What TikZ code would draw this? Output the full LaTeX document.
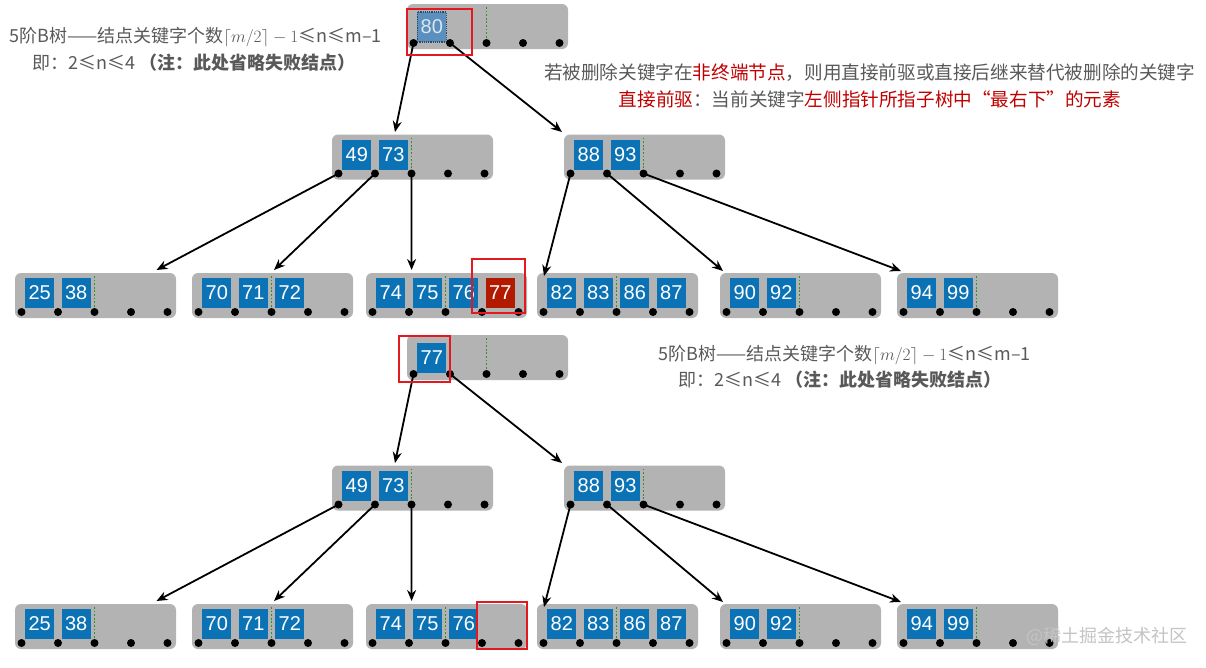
\documentclass[tikz,border=0pt]{standalone}
\usepackage{fontspec}
\setmainfont{Liberation Sans}
\newfontfamily\cjk{Noto Sans CJK SC}
\usetikzlibrary{calc,arrows.meta}
\definecolor{boxgray}{HTML}{B3B3B3}
\definecolor{keyblue}{HTML}{0B72B5}
\definecolor{keyred}{HTML}{B21A00}
\definecolor{txtgray}{HTML}{595959}
\definecolor{txtred}{HTML}{C00000}
\definecolor{rectred}{HTML}{E3191F}
\definecolor{dotgreen}{HTML}{2A952A}
\definecolor{dimkey}{HTML}{5A8FBE}
\definecolor{dimborder}{HTML}{2E4A66}
\definecolor{dimtext}{HTML}{DCE6EE}
\definecolor{wmgray}{HTML}{C4C4C4}
\tikzset{
  bbox/.style={fill=boxgray, rounded corners=6pt, minimum width=161pt, minimum height=45pt, anchor=north west, inner sep=0pt, outer sep=0pt},
  key/.style={fill=keyblue, text=white, minimum width=29pt, minimum height=30pt, inner sep=0pt, font=\fontsize{20}{20}\selectfont},
  ptr/.style={fill=black, circle, inner sep=0pt, minimum size=8pt},
  sepline/.style={draw=dotgreen, dash pattern=on 1.8pt off 1.8pt, line width=1.8pt},
  arr/.style={-{Stealth[length=11pt,width=9pt]}, line width=1.8pt},
  hl/.style={draw=rectred, line width=1.8pt},
  lbl/.style={font=\cjk\fontsize{18}{18}\selectfont, text=txtgray, inner sep=0pt},
  lblbig/.style={lbl, font=\cjk\fontsize{18.6}{18.6}\selectfont},
}
\newcommand\btn[3]{%
  \node[bbox] (#1) at (#2,#3) {};
  \foreach \i in {0,...,4} {\coordinate (#1-d\i) at ($(#1.north west)+(6.5+36.5*\i,39)$);}
}
\newcommand\bkeys[2]{%
  \foreach \t [count=\i, evaluate=\i as \j using int(\i-1)] in {#2} {\node[key] (#1-k\i) at ($(#1-d\j)!0.5!(#1-d\i)+(0,-19)$) {\t};}
}
\newcommand\bfin[1]{%
  \draw[sepline] ($(#1-d2)+(0,-36)$) -- (#1-d2);
  \foreach \i in {0,...,4} {\node[ptr] (#1-p\i) at (#1-d\i) {};}
}
\newcommand\treebody[1]{%
  \btn{#1A}{332}{134.5}\bkeys{#1A}{49,73}\bfin{#1A}
  \btn{#1B}{564}{134.5}\bkeys{#1B}{88,93}\bfin{#1B}
  \btn{#1C1}{15}{273}\bkeys{#1C1}{25,38}\bfin{#1C1}
  \btn{#1C2}{192}{273}\bkeys{#1C2}{70,71,72}\bfin{#1C2}
  \btn{#1C3}{366}{273}\bkeys{#1C3}{74,75,76}
  \btn{#1C4}{537}{273}\bkeys{#1C4}{82,83,86,87}\bfin{#1C4}
  \btn{#1C5}{720}{273}\bkeys{#1C5}{90,92}\bfin{#1C5}
  \btn{#1C6}{897}{273}\bkeys{#1C6}{94,99}\bfin{#1C6}
  \coordinate (#1A-in) at (395,132);
  \coordinate (#1B-in) at (562,132);
  \coordinate (#1C1-in) at (156.5,270);
  \coordinate (#1C2-in) at (274,270);
  \coordinate (#1C3-in) at (411.6,270);
  \coordinate (#1C4-in) at (544,276);
  \coordinate (#1C5-in) at (723,271);
  \coordinate (#1C6-in) at (901,271);
}
\newcommand\treearrows[2]{%
  \draw[arr] (#1R-d0) -- (#2A-in);
  \draw[arr] (#1R-d1) -- (#2B-in);
  \draw[arr] (#2A-d0) -- (#2C1-in);
  \draw[arr] (#2A-d1) -- (#2C2-in);
  \draw[arr] (#2A-d2) -- (#2C3-in);
  \draw[arr] (#2B-d0) -- (#2C4-in);
  \draw[arr] (#2B-d1) -- (#2C5-in);
  \draw[arr] (#2B-d2) -- (#2C6-in);
}
\begin{document}
\begin{tikzpicture}[x=1pt, y=-1pt]
\fill[white] (0,0) rectangle (1206,667);
\useasboundingbox (0,0) rectangle (1206,667);

% ---------- upper tree ----------
\btn{TR}{407}{4}
\node[key, fill=dimkey, text=dimtext, draw=dimborder, densely dotted, line width=1.2pt] (TR-k1) at ($(TR-d0)!0.5!(TR-d1)+(0,-16)$) {80};
\bfin{TR}
\treebody{T}
\node[key, fill=keyred] (TC3-k4) at ($(TC3-d3)!0.5!(TC3-d4)+(0,-19)$) {77};
\bfin{TC3}
\treearrows{T}{T}
\node[hl, minimum width=65pt, minimum height=46pt, anchor=north west] (TRsel) at (406,8) {};
\node[hl, minimum width=53pt, minimum height=54pt, anchor=north west] (TC3sel) at (471,258) {};

% ---------- lower tree ----------
\begin{scope}[yshift=-331pt]
\btn{BR}{407}{4}
\node[key] (BR-k1) at ($(BR-d0)!0.5!(BR-d1)+(0,-16)$) {77};
\bfin{BR}
\treebody{L}
\bfin{LC3}
\treearrows{B}{L}
\node[hl, minimum width=51pt, minimum height=46pt, anchor=north west] (BRsel) at (398,4) {};
\node[hl, minimum width=50pt, minimum height=47pt, anchor=north west] (LC3sel) at (476,270) {};
\end{scope}

% ---------- texts ----------
\node[lbl] (t1) at (195.5,37) {5阶B树——结点关键字个数$\lceil m/2\rceil - 1$≤n≤m–1};
\node[lbl] (t2) at (194,63) {即：2≤n≤4 \textbf{（注：此处省略失败结点）}};
\node[lblbig] (t3) at (869.5,73) {若被删除关键字在\textcolor{txtred}{非终端节点}，则用直接前驱或直接后继来替代被删除的关键字};
\node[lblbig] (t4) at (870,99) {\textcolor{txtred}{直接前驱}：当前关键字\textcolor{txtred}{左侧指针所指子树中“最右下”的元素}};
\node[lbl] (b1) at (844.5,355) {5阶B树——结点关键字个数$\lceil m/2\rceil - 1$≤n≤m–1};
\node[lbl] (b2) at (840,380) {即：2≤n≤4 \textbf{（注：此处省略失败结点）}};
\node[lbl, text=wmgray] (wm) at (1107,636) {@稀土掘金技术社区};
\end{tikzpicture}
\end{document}
